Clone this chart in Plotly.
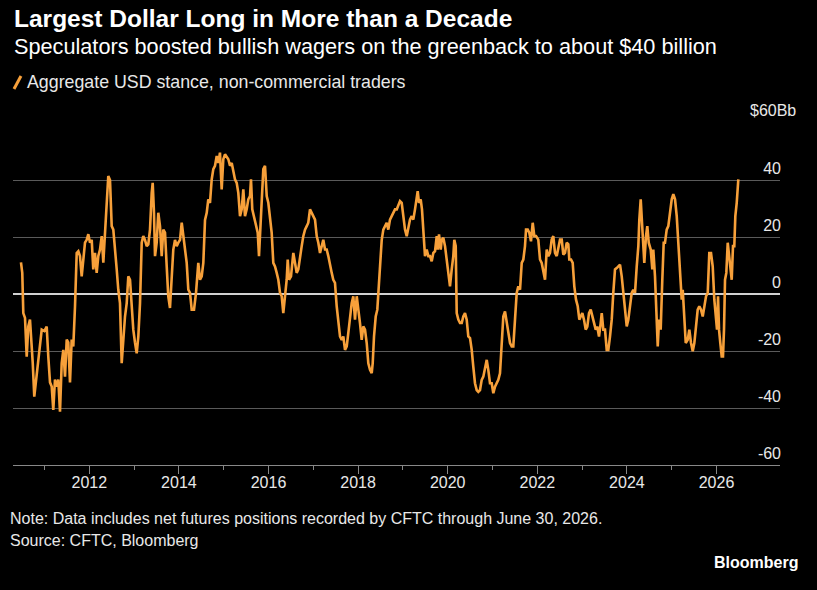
import plotly.graph_objects as go

# Decimal-year dates of the weekly readings
years = [
    2010.475, 2010.504, 2010.527, 2010.565, 2010.603, 2010.638, 2010.676, 2010.714, 2010.737, 2010.772,
    2010.804, 2010.848, 2010.900, 2010.938, 2010.996, 2011.049, 2011.085, 2011.123, 2011.161, 2011.196,
    2011.234, 2011.272, 2011.308, 2011.346, 2011.384, 2011.420, 2011.458, 2011.496, 2011.531, 2011.569,
    2011.607, 2011.643, 2011.681, 2011.719, 2011.755, 2011.792, 2011.830, 2011.866, 2011.904, 2011.942,
    2011.978, 2012.016, 2012.054, 2012.089, 2012.127, 2012.165, 2012.201, 2012.239, 2012.277, 2012.313,
    2012.350, 2012.388, 2012.424, 2012.462, 2012.500, 2012.536, 2012.574, 2012.612, 2012.647, 2012.685,
    2012.723, 2012.759, 2012.797, 2012.835, 2012.871, 2012.909, 2012.946, 2012.982, 2013.020, 2013.058,
    2013.094, 2013.132, 2013.170, 2013.205, 2013.243, 2013.281, 2013.317, 2013.355, 2013.393, 2013.415,
    2013.444, 2013.467, 2013.504, 2013.540, 2013.578, 2013.616, 2013.652, 2013.690, 2013.728, 2013.763,
    2013.801, 2013.839, 2013.875, 2013.913, 2013.951, 2013.987, 2014.025, 2014.063, 2014.098, 2014.136,
    2014.174, 2014.210, 2014.248, 2014.286, 2014.337, 2014.382, 2014.433, 2014.471, 2014.509, 2014.545,
    2014.583, 2014.621, 2014.656, 2014.694, 2014.732, 2014.768, 2014.806, 2014.844, 2014.880, 2014.917,
    2014.955, 2014.991, 2015.029, 2015.103, 2015.141, 2015.179, 2015.214, 2015.252, 2015.290, 2015.326,
    2015.364, 2015.402, 2015.438, 2015.475, 2015.513, 2015.549, 2015.587, 2015.609, 2015.638, 2015.683,
    2015.714, 2015.759, 2015.788, 2015.817, 2015.848, 2015.884, 2015.922, 2015.960, 2015.996, 2016.033,
    2016.071, 2016.107, 2016.145, 2016.183, 2016.219, 2016.257, 2016.295, 2016.330, 2016.368, 2016.406,
    2016.429, 2016.458, 2016.502, 2016.554, 2016.592, 2016.629, 2016.665, 2016.703, 2016.741, 2016.777,
    2016.815, 2016.853, 2016.888, 2016.926, 2016.964, 2017.000, 2017.038, 2017.076, 2017.112, 2017.150,
    2017.188, 2017.223, 2017.261, 2017.299, 2017.335, 2017.373, 2017.411, 2017.446, 2017.484, 2017.522,
    2017.558, 2017.596, 2017.634, 2017.670, 2017.708, 2017.746, 2017.781, 2017.819, 2017.857, 2017.893,
    2017.931, 2017.969, 2018.005, 2018.042, 2018.080, 2018.116, 2018.154, 2018.192, 2018.228, 2018.266,
    2018.304, 2018.326, 2018.355, 2018.393, 2018.429, 2018.460, 2018.489, 2018.527, 2018.563, 2018.600,
    2018.638, 2018.674, 2018.712, 2018.750, 2018.786, 2018.824, 2018.862, 2018.897, 2018.935, 2018.973,
    2019.009, 2019.047, 2019.085, 2019.121, 2019.158, 2019.196, 2019.232, 2019.270, 2019.308, 2019.330,
    2019.359, 2019.397, 2019.426, 2019.455, 2019.493, 2019.531, 2019.567, 2019.605, 2019.643, 2019.679,
    2019.717, 2019.755, 2019.777, 2019.806, 2019.844, 2019.866, 2019.902, 2019.940, 2019.978, 2020.013,
    2020.051, 2020.089, 2020.125, 2020.147, 2020.179, 2020.201, 2020.237, 2020.275, 2020.313, 2020.348,
    2020.386, 2020.424, 2020.460, 2020.498, 2020.536, 2020.571, 2020.609, 2020.647, 2020.683, 2020.721,
    2020.759, 2020.795, 2020.833, 2020.871, 2020.906, 2020.944, 2020.982, 2021.018, 2021.056, 2021.094,
    2021.129, 2021.167, 2021.205, 2021.241, 2021.279, 2021.317, 2021.353, 2021.391, 2021.429, 2021.464,
    2021.502, 2021.540, 2021.576, 2021.614, 2021.652, 2021.688, 2021.725, 2021.748, 2021.786, 2021.821,
    2021.859, 2021.897, 2021.933, 2021.971, 2022.022, 2022.060, 2022.098, 2022.134, 2022.172, 2022.210,
    2022.246, 2022.283, 2022.321, 2022.357, 2022.395, 2022.433, 2022.469, 2022.507, 2022.545, 2022.580,
    2022.618, 2022.656, 2022.692, 2022.714, 2022.752, 2022.790, 2022.826, 2022.864, 2022.902, 2022.938,
    2022.969, 2023.005, 2023.042, 2023.080, 2023.116, 2023.154, 2023.192, 2023.228, 2023.266, 2023.304,
    2023.339, 2023.377, 2023.415, 2023.438, 2023.473, 2023.511, 2023.549, 2023.585, 2023.623, 2023.661,
    2023.696, 2023.734, 2023.772, 2023.808, 2023.846, 2023.884, 2023.920, 2023.958, 2023.996, 2024.031,
    2024.069, 2024.107, 2024.143, 2024.181, 2024.219, 2024.255, 2024.277, 2024.308, 2024.337, 2024.366,
    2024.388, 2024.426, 2024.455, 2024.487, 2024.531, 2024.567, 2024.589, 2024.627, 2024.665, 2024.688,
    2024.717, 2024.754, 2024.790, 2024.821, 2024.850, 2024.888, 2024.924, 2024.962, 2025.000, 2025.036,
    2025.074, 2025.112, 2025.147, 2025.185, 2025.223, 2025.246, 2025.275, 2025.313, 2025.357, 2025.393,
    2025.431, 2025.469, 2025.505, 2025.542, 2025.580, 2025.616, 2025.654, 2025.692, 2025.728, 2025.766,
    2025.804, 2025.839, 2025.877, 2025.915, 2025.951, 2025.989, 2026.011, 2026.034, 2026.056, 2026.085,
    2026.116, 2026.145, 2026.167, 2026.190, 2026.219, 2026.250, 2026.279, 2026.308, 2026.339, 2026.368,
    2026.397, 2026.420, 2026.451, 2026.487,
]

# Aggregate USD stance of non-commercial traders, $ billions
usd_stance = [
    11.1, 7.4, -6.7, -8.4, -22.0, -11.4, -9.0, -17.0, -24.0, -36.0,
    -31.0, -26.6, -17.0, -12.5, -13.0, -11.4, -22.0, -31.0, -32.5, -40.7,
    -30.0, -32.5, -30.0, -41.3, -24.3, -19.6, -29.0, -16.0, -17.0, -31.0,
    -16.0, -18.4, -4.3, 14.4, 15.0, 13.3, 6.2, 13.3, 18.0, 19.0,
    21.0, 18.0, 19.0, 8.6, 14.4, 7.4, 13.3, 15.6, 20.3, 11.0,
    20.3, 28.5, 41.4, 40.0, 23.8, 22.6, 16.8, 8.6, 1.5, -3.2,
    -24.3, -15.0, -7.9, -3.2, 6.2, 5.0, -5.5, -12.5, -17.0, -20.8,
    -15.0, -3.2, 18.0, 20.3, 19.0, 16.8, 17.4, 22.6, 35.5, 39.0,
    28.5, 13.3, 18.0, 28.5, 23.8, 13.3, 22.6, 21.5, 9.7, -0.8,
    -4.9, 3.9, 15.6, 19.0, 16.8, 18.0, 19.0, 25.0, 20.3, 16.8,
    10.9, 1.5, 0.4, -5.5, -5.5, 0.4, 10.9, 5.0, 6.2, 10.9,
    26.0, 28.5, 33.2, 32.0, 40.2, 43.8, 45.0, 48.4, 46.0, 49.6,
    36.7, 47.3, 49.0, 47.3, 45.0, 46.0, 42.6, 40.2, 39.0, 35.5,
    27.3, 29.7, 36.7, 27.3, 29.7, 33.2, 34.4, 40.2, 29.7, 26.2,
    23.8, 21.5, 13.3, 22.6, 32.0, 43.8, 45.0, 34.4, 32.0, 27.3,
    21.5, 10.9, 9.7, 7.4, 5.0, 0.4, -0.8, -6.7, -0.8, 5.0,
    12.1, 5.0, 6.2, 14.4, 10.9, 7.4, 8.6, 13.3, 16.8, 20.3,
    22.6, 23.8, 25.0, 29.7, 28.5, 27.3, 26.1, 20.3, 18.0, 14.4,
    16.8, 19.0, 15.6, 15.6, 13.3, 10.9, 7.4, 5.0, 3.9, -4.3,
    -10.2, -14.9, -16.1, -14.9, -19.6, -18.4, -13.7, -7.9, -3.2, -0.8,
    -9.0, -0.8, -6.7, -10.2, -16.1, -11.4, -12.5, -17.2, -24.3, -26.6,
    -27.8, -24.3, -14.9, -7.9, -5.5, 1.5, 10.9, 19.0, 22.6, 23.8,
    25.0, 22.6, 26.1, 27.3, 28.5, 29.7, 29.7, 30.9, 32.6, 32.0,
    27.3, 22.6, 20.3, 23.8, 26.1, 27.3, 26.1, 29.7, 34.4, 36.1,
    32.0, 33.2, 29.7, 21.5, 13.3, 15.6, 13.3, 13.3, 11.5, 14.4,
    15.0, 20.3, 15.6, 20.9, 15.6, 19.0, 19.7, 16.8, 12.1, 6.2,
    2.7, 8.6, 13.3, 19.0, 16.8, -6.7, -9.0, -10.2, -10.2, -7.9,
    -6.7, -9.0, -14.9, -15.5, -19.6, -25.5, -31.3, -33.7, -34.3, -33.7,
    -30.1, -29.0, -25.5, -23.1, -26.6, -31.3, -31.3, -34.8, -32.5, -31.3,
    -30.1, -27.8, -18.4, -7.9, -6.1, -10.2, -14.9, -17.2, -18.4, -18.4,
    -9.0, 0.4, 2.7, 1.5, 10.9, 12.1, 16.8, 22.6, 22.6, 21.5,
    18.5, 25.0, 20.3, 20.3, 19.1, 12.1, 10.9, 7.4, 5.0, 15.6,
    13.3, 14.4, 19.1, 20.3, 14.4, 13.3, 16.8, 19.1, 19.1, 13.8,
    14.4, 18.0, 17.4, 12.1, 12.1, 10.9, 2.7, -2.0, -4.3, -9.0,
    -7.9, -6.7, -9.0, -12.5, -11.4, -6.7, -5.5, -7.9, -10.2, -12.5,
    -11.4, -14.9, -10.2, -6.7, -12.5, -12.5, -19.6, -19.6, -14.9, -9.0,
    0.4, 8.6, 9.1, 9.7, 10.3, 6.2, 0.4, -5.5, -11.4, -9.0,
    -4.3, 0.4, 1.5, 0.4, 9.7, 16.8, 26.1, 33.2, 25.0, 16.8,
    10.9, 20.3, 23.8, 18.0, 15.6, 8.6, 15.6, 6.2, -7.9, -18.4,
    -9.0, -12.5, 5.0, 18.0, 18.0, 22.6, 23.8, 28.5, 33.2, 35.0,
    33.2, 27.3, 16.8, 8.6, -2.0, 1.5, -7.9, -17.2, -16.1, -12.5,
    -17.2, -20.1, -17.2, -10.2, -5.5, -4.3, -5.5, -7.9, -4.3, -0.8,
    0.4, 14.4, 14.4, 9.7, -2.0, -9.0, -12.5, -0.8, -12.5, -17.2,
    -21.9, -21.9, -12.5, 5.0, 7.4, 18.0, 13.3, 10.9, 5.0, 16.8,
    16.8, 27.3, 32.0, 40.2,
]

x_tick_years = [2012, 2014, 2016, 2018, 2020, 2022, 2024, 2026]
x_tick_labels = ["2012", "2014", "2016", "2018", "2020", "2022", "2024", "2026"]
x_minor_years = [2011, 2013, 2015, 2017, 2019, 2021, 2023, 2025]
y_tick_vals = [-60, -40, -20, 0, 20, 40, 60]
y_tick_labels = ["-60", "-40", "-20", "0", "20", "40", ""]

ORANGE = "#F7A03A"
TEXT = "#E8E8E8"
GRID = "#5A5A5A"
FONT = "Liberation Sans, Arial, sans-serif"

fig = go.Figure()
fig.add_trace(go.Scatter(
    x=years, y=usd_stance, mode="lines",
    line=dict(color=ORANGE, width=2.6),
    name="Aggregate USD stance, non-commercial traders",
    hoverinfo="skip",
))

fig.update_layout(
    width=817, height=590,
    paper_bgcolor="black", plot_bgcolor="black",
    margin=dict(l=13, r=37, t=123, b=125),
    showlegend=False,
    font=dict(family=FONT, color=TEXT),
    xaxis=dict(
        range=[2010.297, 2027.417],
        tickmode="array", tickvals=x_tick_years, ticktext=x_tick_labels,
        ticks="outside", ticklen=8, tickwidth=1, tickcolor="#888888",
        ticklabelstandoff=-5,
        showline=True, linecolor="#888888", linewidth=1,
        showgrid=False, zeroline=False,
        tickfont=dict(size=16, color=TEXT, family=FONT),
        minor=dict(tickmode="array", tickvals=x_minor_years, ticks="outside",
                   ticklen=4, tickcolor="#888888", showgrid=False),
    ),
    yaxis=dict(
        range=[-60, 60], side="right",
        tickmode="array", tickvals=y_tick_vals, ticktext=y_tick_labels,
        ticklabelposition="inside top", ticklabelstandoff=-4,
        ticks="", showgrid=True, gridcolor=GRID, gridwidth=1,
        zeroline=True, zerolinecolor="#D0D0D0", zerolinewidth=1.5,
        showline=False,
        tickfont=dict(size=16, color=TEXT, family=FONT),
    ),
)

def ann(text, x, y, size, xanchor="left", bold=False, color=TEXT):
    fig.add_annotation(
        text=f"<b>{text}</b>" if bold else text,
        xref="paper", yref="paper", x=x, y=y,
        xanchor=xanchor, yanchor="middle", showarrow=False,
        font=dict(size=size, color=color, family=FONT),
    )

ann("Largest Dollar Long in More than a Decade", -0.0013, 1.3041, 24.5, bold=True, color="#FFFFFF")
ann("Speculators boosted bullish wagers on the greenback to about $40 billion", -0.0013, 1.2251, 21.7, color="#FFFFFF")
ann("Aggregate USD stance, non-commercial traders", 0.0156, 1.1199, 17.8)
ann("$60Bb", 1.0235, 1.038, 16, xanchor="right")
ann("Note: Data includes net futures positions recorded by CFTC through June 30, 2026.", -0.0065, -0.155, 16)
ann("Source: CFTC, Bloomberg", -0.0065, -0.2222, 16)
ann("Bloomberg", 1.0261, -0.2865, 16, xanchor="right", bold=True, color="#FFFFFF")

# legend key: short slanted orange stroke
fig.add_shape(type="line", xref="paper", yref="paper",
              x0=0.0013, y0=1.0994, x1=0.0104, y1=1.1374,
              line=dict(color=ORANGE, width=3))

fig.write_html("out.html")
